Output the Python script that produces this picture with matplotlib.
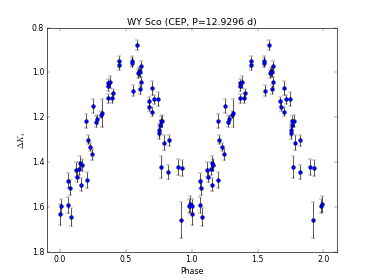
import numpy as np
import matplotlib
matplotlib.use("Agg")
import matplotlib.pyplot as plt

plt.style.use("classic")

# phase, delta K_s, error (one cycle, plotted twice)
phase = [0.005, 0.003, 0.061, 0.061, 0.073, 0.081, 0.119, 0.126, 0.146, 0.154,
         0.164, 0.157, 0.203, 0.199, 0.210, 0.227, 0.247, 0.253, 0.273, 0.283,
         0.308, 0.316, 0.366, 0.379, 0.368, 0.368, 0.404, 0.399, 0.449, 0.449,
         0.547, 0.547, 0.553, 0.585, 0.600, 0.593, 0.610, 0.616, 0.619, 0.608,
         0.674, 0.676, 0.699, 0.700, 0.713, 0.748, 0.752, 0.758, 0.765, 0.773,
         0.755, 0.788, 0.825, 0.768, 0.823, 0.899, 0.929, 0.922, 0.980, 0.990]
dks = [1.597, 1.633, 1.483, 1.591, 1.513, 1.643, 1.434, 1.464, 1.429, 1.404,
       1.413, 1.500, 1.479, 1.217, 1.299, 1.331, 1.364, 1.149, 1.220, 1.209,
       1.189, 1.181, 1.048, 1.044, 1.061, 1.116, 1.093, 1.116, 0.951, 0.969,
       0.948, 0.956, 1.081, 0.876, 0.994, 1.003, 0.999, 0.970, 1.041, 1.075,
       1.129, 1.152, 1.175, 1.068, 1.120, 1.120, 1.257, 1.235, 1.217, 1.216,
       1.270, 1.313, 1.303, 1.423, 1.443, 1.423, 1.426, 1.658, 1.595, 1.586]
err = [0.034, 0.045, 0.033, 0.034, 0.034, 0.040, 0.034, 0.026, 0.030, 0.032,
       0.025, 0.030, 0.034, 0.032, 0.020, 0.018, 0.025, 0.032, 0.024, 0.020,
       0.016, 0.064, 0.018, 0.026, 0.020, 0.021, 0.021, 0.020, 0.024, 0.020,
       0.022, 0.020, 0.023, 0.022, 0.020, 0.020, 0.020, 0.020, 0.022, 0.020,
       0.021, 0.020, 0.020, 0.032, 0.020, 0.031, 0.025, 0.025, 0.025, 0.025,
       0.025, 0.032, 0.026, 0.049, 0.031, 0.035, 0.036, 0.082, 0.030, 0.037]

ph = np.array(phase)
mag = np.array(dks)
e = np.array(err)

fig = plt.figure(figsize=(8, 6), dpi=46.75)
ax = fig.add_subplot(111)
ax.errorbar(np.concatenate([ph, ph + 1]), np.concatenate([mag, mag]),
            yerr=np.concatenate([e, e]), fmt="bo", ecolor="k", capsize=3)
ax.set_xlim(-0.1, 2.1)
ax.set_ylim(1.8, 0.8)
ax.set_xlabel("Phase")
ax.set_ylabel(r"$\Delta K_s$")
ax.set_title("WY Sco (CEP, P=12.9296 d)")
fig.savefig("out.png", dpi=46.75)
